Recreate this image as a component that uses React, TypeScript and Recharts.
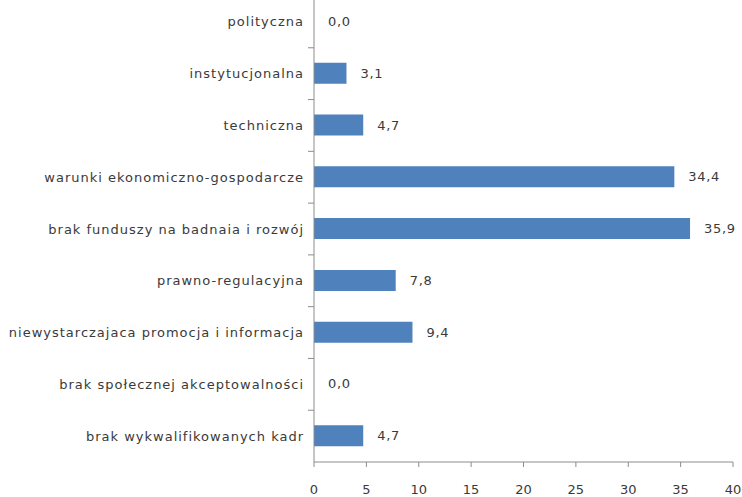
import React from "react";
import { BarChart, Bar, XAxis, YAxis, LabelList } from "recharts";

const categories = [
  "polityczna",
  "instytucjonalna",
  "techniczna",
  "warunki ekonomiczno-gospodarcze",
  "brak funduszy na badnaia i rozwój",
  "prawno-regulacyjna",
  "niewystarczajaca promocja i informacja",
  "brak społecznej akceptowalności",
  "brak wykwalifikowanych kadr",
];
const values = [0.0, 3.1, 4.7, 34.4, 35.9, 7.8, 9.4, 0.0, 4.7];
const xTicks = [0, 5, 10, 15, 20, 25, 30, 35, 40];

const data = categories.map((name, i) => ({ name, value: values[i] }));

const FONT = "'DejaVu Sans', Verdana, sans-serif";
const AXIS = "#8c8c8c";
const TEXT = "#3a3a3a";

const fmt = (v: number) => v.toFixed(1).replace(".", ",");

const CategoryTick = ({ x, y, payload }: any) => {
  const half = payload?.offset ?? 25.9;
  return (
    <g>
      <line x1={x + 4} x2={x + 10} y1={y - half} y2={y - half} stroke={AXIS} />
      <text
        x={x}
        y={y}
        dy="0.35em"
        textAnchor="end"
        fill={TEXT}
        fontSize={13}
        fontFamily={FONT}
        letterSpacing={1}
      >
        {payload.value}
      </text>
    </g>
  );
};

// value labels are drawn by hand so the 0,0 rows still get one
const ValueLabel = ({ x, y, width, height, value }: any) => (
  <text
    x={x + width + 14}
    y={y + height / 2}
    dy="0.35em"
    fill={TEXT}
    fontSize={13}
    fontFamily={FONT}
    letterSpacing={0.7}
  >
    {fmt(Number(value))}
  </text>
);

export default function App() {
  return (
    <div style={{ position: "absolute", left: 0, top: -4, width: 742, height: 520, background: "#fff" }}>
      <BarChart
        width={742}
        height={520}
        data={data}
        layout="vertical"
        margin={{ top: 0, right: 9, bottom: 14, left: 0 }}
        barCategoryGap={0}
      >
        <XAxis
          type="number"
          domain={[0, 40]}
          ticks={xTicks}
          interval={0}
          axisLine={{ stroke: AXIS }}
          tickLine={{ stroke: AXIS }}
          tickSize={5}
          tickMargin={18}
          height={40}
          tick={{ fill: TEXT, fontSize: 13, fontFamily: FONT }}
        />
        <YAxis
          type="category"
          dataKey="name"
          width={314}
          axisLine={{ stroke: AXIS }}
          tickLine={false}
          tick={<CategoryTick />}
          interval={0}
          tickMargin={4}
        />
        <Bar dataKey="value" fill="#4f81bd" barSize={21} minPointSize={0.01} isAnimationActive={false}>
          <LabelList dataKey="value" content={<ValueLabel />} />
        </Bar>
      </BarChart>
    </div>
  );
}
